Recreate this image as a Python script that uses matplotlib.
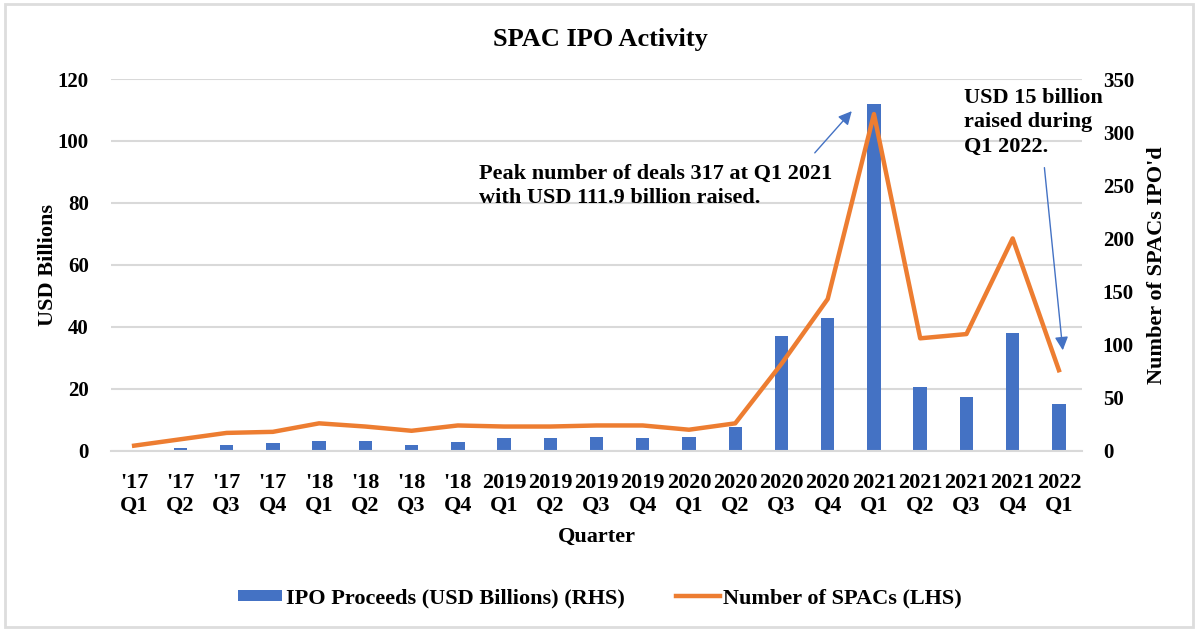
import matplotlib
matplotlib.use("Agg")
import matplotlib.pyplot as plt
from matplotlib.patches import Rectangle
import numpy as np

plt.rcParams['font.family'] = ['Liberation Serif', 'DejaVu Serif']
plt.rcParams['font.weight'] = 'bold'

quarters = ["'17\nQ1", "'17\nQ2", "'17\nQ3", "'17\nQ4",
            "'18\nQ1", "'18\nQ2", "'18\nQ3", "'18\nQ4",
            "2019\nQ1", "2019\nQ2", "2019\nQ3", "2019\nQ4",
            "2020\nQ1", "2020\nQ2", "2020\nQ3", "2020\nQ4",
            "2021\nQ1", "2021\nQ2", "2021\nQ3", "2021\nQ4",
            "2022\nQ1"]
proceeds_bn = [0, 1.0, 2.0, 2.6, 3.2, 3.2, 2.0, 3.0,
               4.1, 4.1, 4.6, 4.1, 4.6, 7.8, 37.1, 43.0,
               111.9, 20.7, 17.5, 38.0, 15.0]
num_spacs = [5, 11, 17, 18, 26, 23, 19, 24,
             23, 23, 24, 24, 20, 26, 82, 143,
             317, 106, 110, 200, 76]

BLUE = '#4472C4'
ORANGE = '#ED7D31'
GRID = '#D9D9D9'

fig = plt.figure(figsize=(12, 6.31), dpi=100)
ax = fig.add_axes([0.0925, 0.2853, 0.8092, 0.5895])
ax2 = ax.twinx()

x = np.arange(len(quarters))
ax.bar(x, proceeds_bn, width=0.29, color=BLUE, zorder=2,
       label='IPO Proceeds (USD Billions) (RHS)')
ax2.plot(x, num_spacs, color=ORANGE, linewidth=3.2, zorder=3,
         label='Number of SPACs (LHS)')

ax.set_xlim(-0.5, len(quarters) - 0.5)
ax.set_ylim(0, 120)
ax.set_yticks(range(0, 121, 20))
ax2.set_ylim(0, 350)
ax2.set_yticks(range(0, 351, 50))

ax.yaxis.grid(True, color=GRID, linewidth=1.5, zorder=0)
ax.set_axisbelow(True)
for a in (ax, ax2):
    for s in a.spines.values():
        s.set_visible(False)
    a.tick_params(length=0, labelsize=15)
ax.spines['bottom'].set_visible(True)
ax.spines['bottom'].set_color(GRID)
ax.spines['bottom'].set_linewidth(1.5)

ax.set_xticks(x)
ax.set_xticklabels(quarters, fontsize=16, linespacing=1.17)
ax.tick_params(axis='x', pad=16)
ax.tick_params(axis='y', pad=16)
ax2.tick_params(axis='y', pad=15)

ax.set_xlabel('Quarter', fontsize=16, fontweight='bold', labelpad=8)
ax.set_ylabel('USD Billions', fontsize=16, fontweight='bold', labelpad=0)
ax2.set_ylabel("Number of SPACs IPO'd", fontsize=16, fontweight='bold', labelpad=9)

fig.text(0.5, 0.937, 'SPAC IPO Activity', fontsize=19, fontweight='bold',
         ha='center', va='center')

# annotations
ax.annotate('', xy=(15.56, 110.3), xytext=(14.68, 95.5),
            arrowprops=dict(arrowstyle='-|>', color=BLUE, lw=1, mutation_scale=20))
ax.text(7.45, 85.5, 'Peak number of deals 317 at Q1 2021\nwith USD 111.9 billion raised.',
        fontsize=16, fontweight='bold', va='center', ha='left', linespacing=1.3)
ax.annotate('', xy=(20.09, 31.6), xytext=(19.68, 92.3),
            arrowprops=dict(arrowstyle='-|>', color=BLUE, lw=1, mutation_scale=20))
ax.text(17.94, 106, 'USD 15 billion\nraised during\nQ1 2022.',
        fontsize=16, fontweight='bold', va='center', ha='left', linespacing=1.28)

h1, l1 = ax.get_legend_handles_labels()
h2, l2 = ax2.get_legend_handles_labels()
fig.legend(h1 + h2, l1 + l2, loc='center', bbox_to_anchor=(0.5, 0.052),
           ncol=2, frameon=False, fontsize=16, columnspacing=2.3,
           handlelength=2.0, handleheight=0.4, handletextpad=0.15)

fig.patches.append(Rectangle((0.004, 0.006), 0.99, 0.987, transform=fig.transFigure,
                             fill=False, edgecolor='#DDDDDD', linewidth=2))

fig.savefig('out.png', dpi=100)
